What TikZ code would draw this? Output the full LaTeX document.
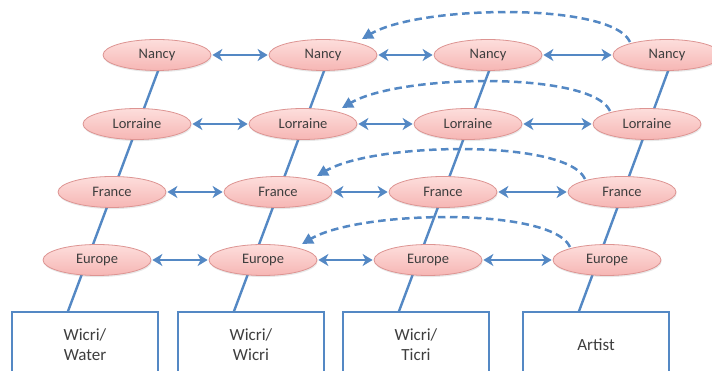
\documentclass[tikz,border=0pt]{standalone}
\usepackage{fontspec}
\setmainfont{Carlito}
\usetikzlibrary{shapes.geometric,shadows,backgrounds}
\usetikzlibrary{calc,arrows.meta}

\definecolor{linkblue}{RGB}{84,136,196}
\definecolor{nodeedge}{RGB}{221,148,146}
\definecolor{nodetop}{RGB}{253,222,220}
\definecolor{nodebot}{RGB}{246,182,180}
\definecolor{txtgray}{RGB}{62,62,62}

\begin{document}
\begin{tikzpicture}
	[   x=1pt,y=1pt,
	    enode/.style={ellipse,draw=nodeedge,line width=0.8pt,top color=nodetop,bottom color=nodebot,minimum width=108pt,minimum height=31pt,inner sep=0pt,text=txtgray,font=\fontsize{14.5}{16}\selectfont,drop shadow={opacity=0.18,shadow xshift=0.6pt,shadow yshift=-1.6pt}},
	    wbox/.style={draw=linkblue,line width=1.6pt,fill=white,minimum width=146pt,minimum height=66pt,align=center,text=txtgray,font=\fontsize{17}{20}\selectfont},
	]
	\tikzset{double arrow/.style={draw=linkblue,line width=2.5pt,shorten <=1pt,shorten >=1pt,{Stealth[length=10pt,width=12pt,inset=3pt]}-{Stealth[length=10pt,width=12pt,inset=3pt]}}}
	\tikzset{dash arrow/.style={draw=linkblue,line width=2.5pt,dash pattern=on 7.5pt off 4.5pt,-{Triangle[length=11pt,width=11pt]}}}
	\tikzset{col line/.style={draw=linkblue,line width=2.4pt}}
	\useasboundingbox (0,0) rectangle (712,371);
	\clip (0,0) rectangle (712,371);
	
	% one column per wiki
	\foreach \c/\o in {1/0,2/166,3/331,4/510}
	{
		\node[enode] (n-\c) at ({157+\o},316) {Nancy};
		\node[enode] (l-\c) at ({137+\o},247) {Lorraine};
		\node[enode] (f-\c) at ({112+\o},179) {France};
		\node[enode] (e-\c) at ({97+\o},111) {Europe};
	}
	
	\node[wbox] (w-1) at (85,26) {Wicri/\\Water};
	\node[wbox] (w-2) at (251,26) {Wicri/\\Wicri};
	\node[wbox] (w-3) at (416,26) {Wicri/\\Ticri};
	\node[wbox] (w-4) at (596,26) {Artist};
	
	\begin{scope}[on background layer]
		\fill[white] (0,0) rectangle (712,371);
		\foreach \c in {1,...,4}
		{
			\path[col line] ([xshift=-17pt]w-\c.north) -- ([xshift=7pt]n-\c.center);
		}
	\end{scope}
	
	\foreach \r in {n,l,f,e}
	{
		\foreach \c/\d in {1/2,2/3,3/4}
		{
			\path[double arrow] (\r-\c) -- (\r-\d);
		}
		%\draw (\r-4) -- (\r-2);
		\path[dash arrow] ($(\r-4)+(-37,13)$) .. controls ($(\r-4)+(-55,53)$) and ($(\r-2)+(97,50)$) .. ($(\r-2)+(39,16)$);
	}
\end{tikzpicture}
\end{document}
